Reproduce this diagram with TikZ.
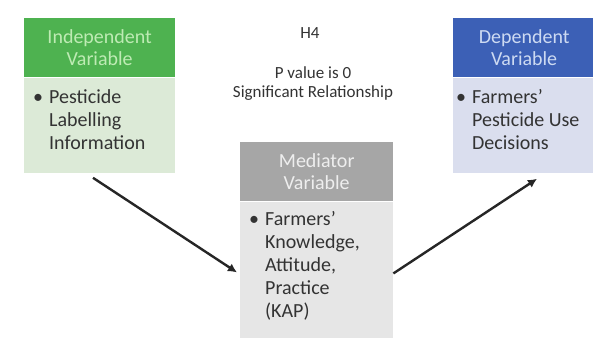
\documentclass[tikz,border=0pt]{standalone}
\usepackage{fontspec}
\setmainfont{Carlito}
\usepackage{tikz}
\usetikzlibrary{arrows.meta,calc}
\definecolor{indephead}{RGB}{78,178,80}
\definecolor{indepbody}{RGB}{220,234,215}
\definecolor{indeptext}{RGB}{190,235,180}
\definecolor{dephead}{RGB}{60,96,182}
\definecolor{depbody}{RGB}{218,222,238}
\definecolor{deptext}{RGB}{205,218,242}
\definecolor{medhead}{RGB}{166,166,166}
\definecolor{medbody}{RGB}{230,230,230}
\definecolor{medtext}{RGB}{238,238,238}
\newcommand{\bulletlines}[1]{%
  \begin{tabular}{@{}l@{\hspace{6pt}}l@{}}\textbullet & #1\end{tabular}}
\tikzset{
  headnode/.style={rectangle,anchor=north west,inner sep=0pt,align=center,
    font=\fontsize{20}{22}\selectfont},
  bodynode/.style={rectangle,anchor=north west,inner sep=0pt},
  itemnode/.style={anchor=north west,inner sep=0pt,align=left,
    font=\fontsize{20}{23}\selectfont\color{black!80}},
  notenode/.style={font=\fontsize{17}{19}\selectfont,text=black!80,inner sep=0pt},
  linkedge/.style={line width=2.4pt,black!85,-{Latex[length=9pt,width=9pt]}}
}
\begin{document}
\begin{tikzpicture}[x=1pt,y=-1pt]
  \useasboundingbox[fill=white] (0,0) rectangle (593,338);

  % independent variable
  \node[headnode,fill=indephead,text=indeptext,minimum width=151,minimum height=59]
    (indephd) at (24,18) {Independent\\Variable};
  \node[bodynode,fill=indepbody,minimum width=151,minimum height=95]
    (indepbd) at (indephd.south west) {};
  \node[itemnode] (indepitem) at ($(indepbd.north west)+(9,10)$)
    {\bulletlines{Pesticide\\ & Labelling\\ & Information}};

  % dependent variable
  \node[headnode,fill=dephead,text=deptext,minimum width=142,minimum height=59]
    (dephd) at (453,18) {Dependent\\Variable};
  \node[bodynode,fill=depbody,minimum width=142,minimum height=95]
    (depbd) at (dephd.south west) {};
  \node[itemnode] (depitem) at ($(depbd.north west)+(3,10)$)
    {\bulletlines{Farmers'\\ & Pesticide Use\\ & Decisions}};

  % mediator variable
  \node[headnode,fill=medhead,text=medtext,minimum width=153,minimum height=59]
    (medhd) at (240,142) {Mediator\\Variable};
  \node[bodynode,fill=medbody,minimum width=153,minimum height=136]
    (medbd) at (medhd.south west) {};
  \node[itemnode] (meditem) at ($(medbd.north west)+(9,8)$)
    {\bulletlines{Farmers'\\ & Knowledge,\\ & Attitude,\\ & Practice\\ & (KAP)}};

  % hypothesis note
  \node[notenode] (hyp) at (310,33) {H4};
  \node[notenode,align=center] (pval) at (313,84)
    {P value is 0\\Significant Relationship};

  \coordinate (indepout) at ($(indepbd.south west)+(69,5)$);
  \coordinate (medin) at ($(medbd.north west)+(-3,71)$);
  \coordinate (medout) at ($(medbd.north east)+(0,72)$);
  \coordinate (depin) at ($(depbd.south west)+(84,6)$);
  \draw[linkedge] (indepout) -- (medin);
  \draw[linkedge] (medout) -- (depin);
\end{tikzpicture}
\end{document}
